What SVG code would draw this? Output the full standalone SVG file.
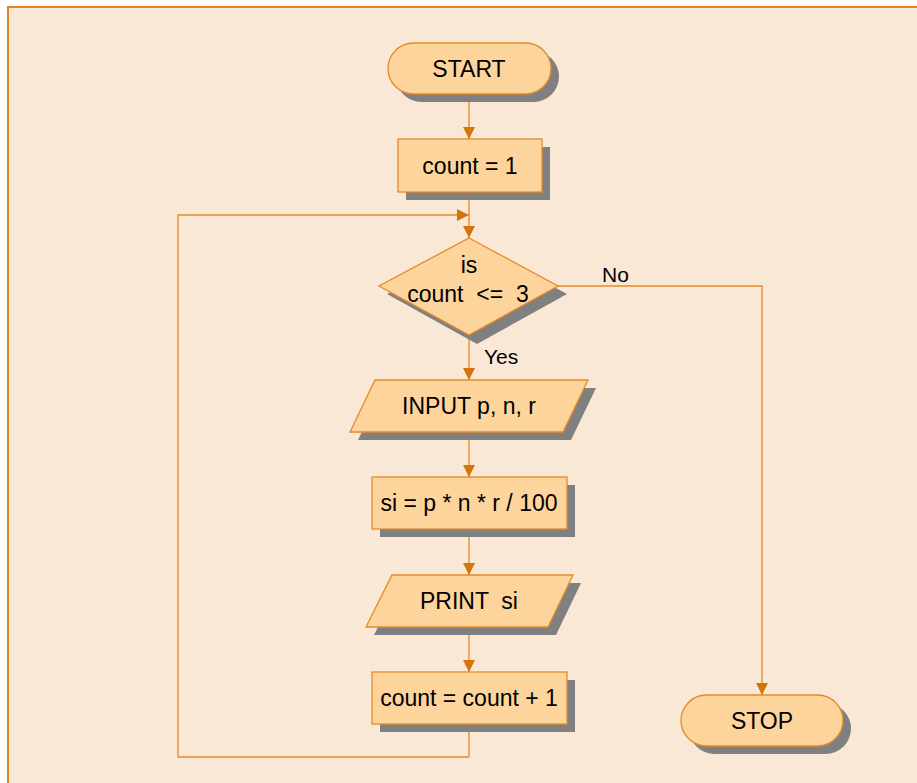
<svg xmlns="http://www.w3.org/2000/svg" width="917" height="783" viewBox="0 0 917 783">
<defs>
<marker id="arr" markerUnits="userSpaceOnUse" markerWidth="12" markerHeight="12" viewBox="0 0 12 12" refX="12" refY="6" orient="auto">
<path d="M0,0 L12,6 L0,12 Z" fill="#D5740A"/>
</marker>
</defs>
<style>
.node{fill:#FDD49B;stroke:#E48A26;stroke-width:1.3}
.shadow{fill:#808080}
.conn{fill:none;stroke:#E48A26;stroke-width:1.3}
text{font-family:"Liberation Sans",Arial,sans-serif;font-size:23px;fill:#000;text-anchor:middle}
.lbl{font-size:21px;text-anchor:start}
</style>
<rect x="0" y="0" width="917" height="783" fill="#FFFFFF"/>
<rect x="8" y="7" width="912" height="780" fill="#FAE8D6" stroke="#E0821E" stroke-width="2"/>

<g id="connectors">
<path class="conn" d="M469,94 V139" marker-end="url(#arr)"/>
<path class="conn" d="M469,192 V238" marker-end="url(#arr)"/>
<path class="conn" d="M469,757 V724 M469,757 H178 V215 H469" marker-end="url(#arr)"/>
<path class="conn" d="M469,335 V380" marker-end="url(#arr)"/>
<path class="conn" d="M558,286 H762 V695" marker-end="url(#arr)"/>
<path class="conn" d="M469,432 V477" marker-end="url(#arr)"/>
<path class="conn" d="M469,529 V575" marker-end="url(#arr)"/>
<path class="conn" d="M469,627 V672" marker-end="url(#arr)"/>
<text class="lbl" x="602" y="282">No</text>
<text class="lbl" x="484" y="364">Yes</text>
</g>

<g id="start">
<rect class="shadow" x="396" y="51" width="163" height="51" rx="25.5"/>
<rect class="node" x="388" y="43" width="163" height="51" rx="25.5"/>
<text x="469" y="77">START</text>
</g>

<g id="init">
<rect class="shadow" x="406" y="147" width="144" height="53"/>
<rect class="node" x="398" y="139" width="144" height="53"/>
<text x="470" y="174">count = 1</text>
</g>

<g id="decision">
<polygon class="shadow" points="477,246 567,294 477,344 387,294"/>
<polygon class="node" points="469,238 558,286 469,335 379,286"/>
<text x="469" y="273">is</text>
<text x="468" y="302" xml:space="preserve">count  &lt;=  3</text>
</g>

<g id="input">
<polygon class="shadow" points="383,388 596,388 571,440 358,440"/>
<polygon class="node" points="375,380 588,380 563,432 350,432"/>
<text x="469" y="414">INPUT p, n, r</text>
</g>

<g id="calc">
<rect class="shadow" x="380" y="485" width="195" height="52"/>
<rect class="node" x="372" y="477" width="195" height="52"/>
<text x="469" y="511">si = p * n * r / 100</text>
</g>

<g id="print">
<polygon class="shadow" points="400,583 581,583 556,635 374,635"/>
<polygon class="node" points="392,575 573,575 548,627 366,627"/>
<text x="469" y="609" xml:space="preserve">PRINT  si</text>
</g>

<g id="increment">
<rect class="shadow" x="380" y="680" width="195" height="52"/>
<rect class="node" x="372" y="672" width="195" height="52"/>
<text x="469" y="706">count = count + 1</text>
</g>

<g id="stop">
<rect class="shadow" x="689" y="703" width="162" height="51" rx="25.5"/>
<rect class="node" x="681" y="695" width="162" height="51" rx="25.5"/>
<text x="762" y="729">STOP</text>
</g>
</svg>
